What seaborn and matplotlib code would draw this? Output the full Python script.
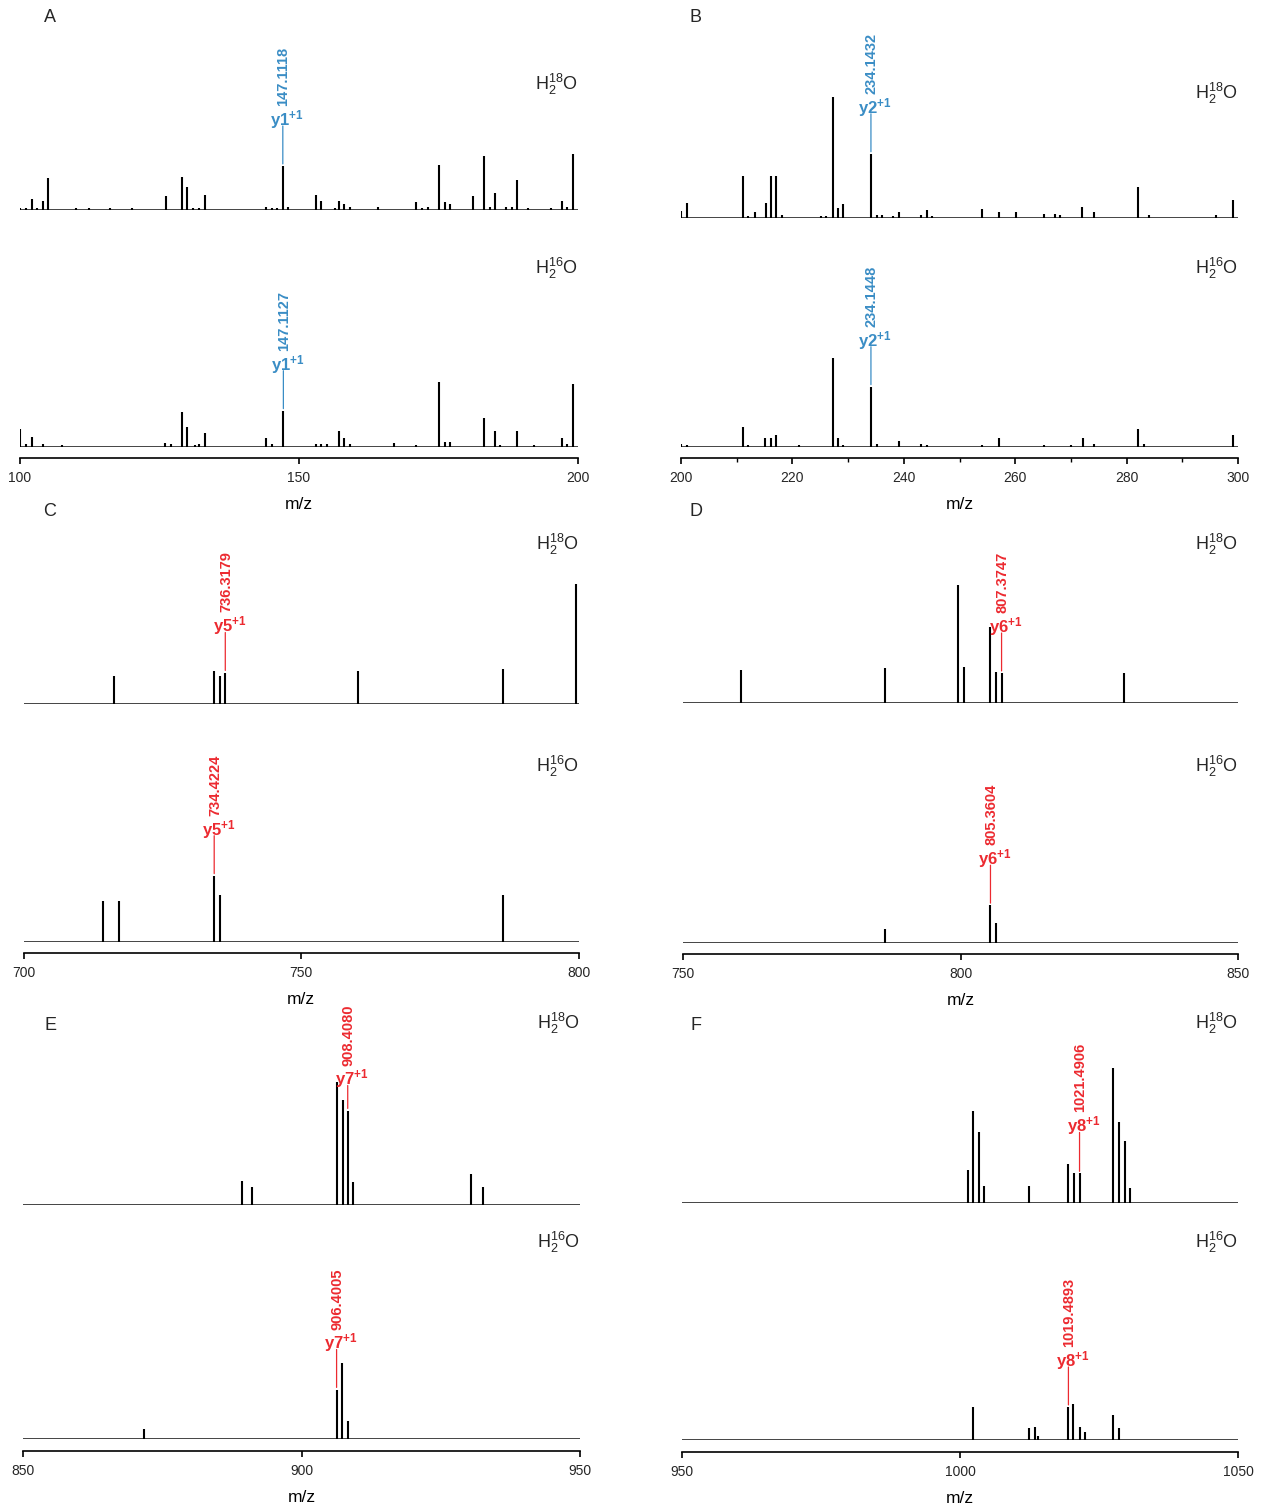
import matplotlib.pyplot as plt
import seaborn as sns
import numpy as np
import pandas as pd

sns.set_theme(style="white")
plt.rcParams['font.family'] = ['Liberation Sans', 'DejaVu Sans']
plt.rcParams['mathtext.fontset'] = 'custom'
plt.rcParams['mathtext.rm'] = 'Liberation Sans'
plt.rcParams['mathtext.it'] = 'Liberation Sans:italic'
plt.rcParams['mathtext.bf'] = 'Liberation Sans:bold'

# ---- spectra (m/z, relative intensity) ----
# Panel A, 100-200
a18_mz = [100.0, 101.0, 102.1, 103.1, 104.1, 105.1, 110.1, 112.4, 116.1, 120.1, 126.1, 129.0, 130.0, 131.0,
          132.0, 133.1, 144.1, 145.1, 146.0, 147.1, 148.1, 153.1, 154.0, 156.4, 157.1, 158.0, 159.1, 164.1,
          171.0, 172.1, 173.1, 175.0, 176.1, 177.1, 181.1, 183.1, 184.2, 185.1, 187.1, 188.1, 189.1, 191.1,
          195.1, 197.1, 198.0, 199.1]
a18_int = [1, 1, 7, 1, 6, 21, 1, 0.7, 0.7, 1, 9, 22, 15, 0.7,
           1, 9.5, 2, 1, 1, 29, 1.5, 10, 5.5, 1, 5.5, 3.5, 1.5, 2,
           5, 1, 2, 30, 5, 4, 9, 36, 2, 11, 2, 1.5, 20, 1,
           0.7, 6, 2, 37]
a16_mz = [100.0, 101.0, 102.1, 104.1, 107.6, 126.0, 127.0, 129.0, 130.0, 131.3, 132.0, 133.1, 144.1, 145.1,
          147.2, 153.1, 154.0, 155.0, 157.1, 158.1, 159.1, 167.1, 171.0, 175.1, 176.1, 177.1, 183.1, 185.1,
          186.1, 189.1, 192.1, 197.1, 198.1, 199.1]
a16_int = [12, 1.5, 6.5, 2, 1, 2.5, 1.5, 23, 13, 1, 1.5, 9, 5.5, 1.5,
           24, 2, 2, 1.5, 10.5, 5.5, 1.5, 2.5, 1, 43, 3, 3, 19, 10.5,
           1, 10.5, 1, 5.5, 1.5, 42]

# Panel B, 200-300
b18_mz = [200.0, 201.1, 211.1, 212.1, 213.2, 215.2, 216.2, 217.1, 218.1, 225.1, 226.1, 227.2, 228.1, 229.1,
          234.1, 235.1, 236.1, 238.1, 239.1, 243.1, 244.1, 245.1, 254.1, 257.1, 260.1, 265.1, 267.1, 268.1,
          272.0, 274.1, 282.1, 284.1, 296.0, 299.1]
b18_int = [5, 10.5, 28, 1.5, 4.5, 10.5, 28, 28, 2, 1.5, 1.5, 81, 7, 9.5,
           43, 2.5, 2.5, 1.5, 4.5, 2, 5.5, 1.5, 6, 4.5, 4.5, 3, 3, 2,
           7.5, 4.5, 21, 2, 2, 12.5]
b16_mz = [200.0, 201.1, 211.1, 212.1, 215.1, 216.1, 217.1, 221.1, 227.2, 228.1, 229.1, 234.1, 235.1, 239.1,
          243.1, 244.1, 254.1, 257.1, 265.1, 270.1, 272.1, 274.1, 282.1, 283.1, 299.1]
b16_int = [2, 1, 13, 1, 6, 6, 7.5, 1, 59, 5.5, 1, 40, 2, 4,
           1.5, 1, 1, 5.5, 1, 1, 5.5, 2, 12, 1.5, 8]

# Panel C, 700-800
c18_mz = [716.3, 734.3, 735.3, 736.3, 760.3, 786.3, 799.6]
c18_int = [19, 22, 19, 21, 22, 23.5, 80]
c16_mz = [714.3, 717.2, 734.3, 735.3, 786.3]
c16_int = [27, 27, 44, 31, 31]

# Panel D, 750-850
d18_mz = [760.4, 786.4, 799.5, 800.6, 805.4, 806.4, 807.4, 829.5]
d18_int = [22, 23.5, 79, 24, 51, 21, 20, 20]
d16_mz = [786.4, 805.4, 806.4]
d16_int = [9, 25, 13]

# Panel E, 850-950
e18_mz = [889.3, 891.2, 906.3, 907.4, 908.3, 909.3, 930.5, 932.5]
e18_int = [16, 12, 82, 70, 63, 15.5, 21, 12]
e16_mz = [871.8, 906.3, 907.3, 908.3]
e16_int = [6.5, 33, 51, 12]

# Panel F, 950-1050
f18_mz = [1001.4, 1002.4, 1003.4, 1004.4, 1012.4, 1019.4, 1020.5, 1021.5, 1027.5, 1028.6, 1029.6, 1030.6]
f18_int = [22, 61, 47, 11, 11, 26, 19.5, 19.5, 90, 54, 41, 10]
f16_mz = [1002.4, 1012.4, 1013.5, 1014.0, 1019.5, 1020.4, 1021.5, 1022.5, 1027.5, 1028.6]
f16_int = [22, 8, 8.5, 3, 22, 24, 8.5, 5.5, 17, 8]

# ---- annotated y ions ----
ions = ['y1', 'y2', 'y5', 'y6', 'y7', 'y8']
ion18_mz = [147.1, 234.1, 736.3, 807.4, 908.3, 1021.5]
ion18_txt = ['147.1118', '234.1432', '736.3179', '807.3747', '908.4080', '1021.4906']
ion16_mz = [147.2, 234.1, 734.3, 805.4, 906.3, 1019.5]
ion16_txt = ['147.1127', '234.1448', '734.4224', '805.3604', '906.4005', '1019.4893']

BLUE = '#3a8dc5'
RED = '#ec2a30'

W, H = 1263, 1508
fig = plt.figure(figsize=(W / 100, H / 100), dpi=100)

# layout in pixels
panels = [
    dict(letter='A', xlim=(100, 200), x0=20, x1=578, b18=209.5, b16=446.7, ly=(84, 268), let=(50, 18),
         data=(a18_mz, a18_int, a16_mz, a16_int), color=BLUE, ticks=[100, 150, 200], minor=[]),
    dict(letter='B', xlim=(200, 300), x0=681, x1=1238, b18=218.3, b16=446.7, ly=(93, 268), let=(696, 18),
         data=(b18_mz, b18_int, b16_mz, b16_int), color=BLUE, ticks=[200, 220, 240, 260, 280, 300],
         minor=[210, 230, 250, 270, 290]),
    dict(letter='C', xlim=(700, 800), x0=24, x1=578.5, b18=704, b16=941.7, ly=(544, 766), let=(50, 512),
         data=(c18_mz, c18_int, c16_mz, c16_int), color=RED, ticks=[700, 750, 800], minor=[]),
    dict(letter='D', xlim=(750, 850), x0=683, x1=1238, b18=703, b16=942.7, ly=(544, 766), let=(696, 512),
         data=(d18_mz, d18_int, d16_mz, d16_int), color=RED, ticks=[750, 800, 850], minor=[]),
    dict(letter='E', xlim=(850, 950), x0=23, x1=580, b18=1205, b16=1439, ly=(1023, 1242), let=(50, 1026),
         data=(e18_mz, e18_int, e16_mz, e16_int), color=RED, ticks=[850, 900, 950], minor=[]),
    dict(letter='F', xlim=(950, 1050), x0=682, x1=1238, b18=1202.7, b16=1440, ly=(1023, 1242), let=(696, 1026),
         data=(f18_mz, f18_int, f16_mz, f16_int), color=RED, ticks=[950, 1000, 1050], minor=[]),
]
line18_px = [40, 40, 40, 40, 25, 41]


def px_axes(x0, x1, base, height=150):
    ax = fig.add_axes([x0 / W, 1 - base / H, (x1 - x0) / W, height / H])
    ax.patch.set_alpha(0)
    return ax


def draw_spec(ax, mz, inten, xlim):
    df = pd.DataFrame({'mz': mz, 'intensity': inten})
    ax.axhline(0, color='#444444', lw=1.4, zorder=1)
    ax.vlines(df['mz'], 0, df['intensity'], color='black', lw=1.5, zorder=2)
    ax.set_xlim(xlim)
    ax.set_ylim(0, 100)
    ax.set_yticks([])


def annotate_ion(ax, mz_arr, inten, mz, ion, txt, color, line_px=40):
    h = inten[int(np.argmin(np.abs(np.array(mz_arr) - mz)))]
    L = line_px * 0.72
    ax.annotate('', xy=(mz, h), xytext=(0, L), textcoords='offset points',
                arrowprops=dict(arrowstyle='-', color=color, lw=0.9, shrinkA=0, shrinkB=1.5),
                annotation_clip=False)
    ax.annotate(r'$\mathbf{y%s}^{\mathbf{+1}}$' % ion[1:], xy=(mz, h), xytext=(3, L - 3.5),
                textcoords='offset points', ha='center', va='bottom', color=color, fontsize=12,
                annotation_clip=False)
    ax.annotate(txt, xy=(mz, h), xytext=(0.5, L + 14.4), textcoords='offset points',
                ha='center', va='bottom', rotation=90, color=color, fontsize=10.5, fontweight='bold',
                annotation_clip=False)


for i, p in enumerate(panels):
    m18, i18, m16, i16 = p['data']

    ax18 = px_axes(p['x0'], p['x1'], p['b18'])
    draw_spec(ax18, m18, i18, p['xlim'])
    sns.despine(ax=ax18, left=True, bottom=True)
    ax18.set_xticks([])
    annotate_ion(ax18, m18, i18, ion18_mz[i], ions[i], ion18_txt[i], p['color'], line18_px[i])

    ax16 = px_axes(p['x0'], p['x1'], p['b16'])
    draw_spec(ax16, m16, i16, p['xlim'])
    sns.despine(ax=ax16, left=True, offset={'bottom': 8.3})
    ax16.spines['bottom'].set_color('black')
    ax16.spines['bottom'].set_linewidth(1.2)
    ax16.set_xticks(p['ticks'])
    if p['minor']:
        ax16.set_xticks(p['minor'], minor=True)
    ax16.tick_params(axis='x', which='major', bottom=True, direction='out', length=4.5, width=1.2,
                     color='black', pad=5, labelsize=10)
    ax16.tick_params(axis='x', which='minor', bottom=True, direction='out', length=3, width=1.0,
                     color='black')
    ax16.set_xlabel('m/z', fontsize=12.5, labelpad=8.5, color='black')
    annotate_ion(ax16, m16, i16, ion16_mz[i], ions[i], ion16_txt[i], p['color'])

    xr = p['x1']
    fig.text(xr / W, 1 - p['ly'][0] / H, r'H$_2^{18}$O', ha='right', va='center', fontsize=13)
    fig.text(xr / W, 1 - p['ly'][1] / H, r'H$_2^{16}$O', ha='right', va='center', fontsize=13)
    fig.text(p['let'][0] / W, 1 - p['let'][1] / H, p['letter'], ha='center', va='center', fontsize=13)

fig.savefig('out.png', dpi=100)
